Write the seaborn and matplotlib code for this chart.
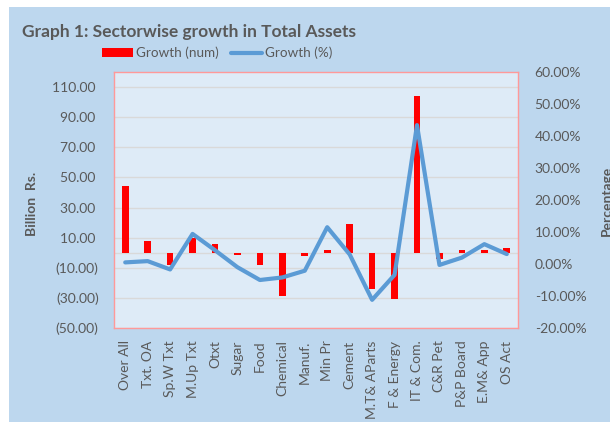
import matplotlib
matplotlib.use('Agg')
import matplotlib.pyplot as plt
import seaborn as sns
import pandas as pd
from matplotlib.patches import Rectangle, Patch
from matplotlib.lines import Line2D
from matplotlib.ticker import FixedLocator, FuncFormatter

categories = ["Over All", "Txt. OA", "Sp.W Txt", "M.Up Txt", "Otxt", "Sugar", "Food",
              "Chemical", "Manuf.", "Min Pr", "Cement", "M.T& AParts", "F & Energy",
              "IT & Com.", "C&R Pet", "P&P Board", "E.M& App", "OS Act"]
growth_num = [44, 8, -8, 10, 6, -1.5, -8, -29, -2.5, 2, 19, -24, -30.5, 104, -4.5, 2, 2, 3]
growth_pct = [0.5, 0.9, -1.7, 9.4, 4.3, -1.0, -5.0, -4.2, -2.1, 11.5, 3.0, -11.2, -3.4,
              43.4, -0.3, 2.0, 6.2, 3.1]
left_ticks = [-50, -30, -10, 10, 30, 50, 70, 90, 110]
right_ticks = [-20, -10, 0, 10, 20, 30, 40, 50, 60]

TXT = '#595959'
sns.set_theme(style='white')
plt.rcParams['font.family'] = ['Lato', 'DejaVu Sans']

W, H = 610, 422
fig = plt.figure(figsize=(W / 100, H / 100), dpi=100)
fig.patch.set_facecolor('#BDD7EE')
fig.patches.append(Rectangle((0, 0), 9 / W, 1, transform=fig.transFigure,
                             facecolor='white', edgecolor='none', zorder=-5))
fig.patches.append(Rectangle((0, 1 - 7 / H), 1, 7 / H, transform=fig.transFigure,
                             facecolor='white', edgecolor='none', zorder=-5))

ax = fig.add_axes([114 / W, 1 - 328 / H, 404 / W, 256 / H])
ax.set_facecolor('#DEEBF7')

df = pd.DataFrame({'Sector': categories, 'num': growth_num, 'pct': growth_pct})
sns.barplot(data=df, x='Sector', y='num', color='#FF0000', saturation=1, width=0.3,
            linewidth=0, ax=ax, zorder=3)
ax.set_ylim(-50, 120)
ax.yaxis.set_major_locator(FixedLocator(left_ticks))
ax.yaxis.set_major_formatter(FuncFormatter(
    lambda v, p: f"({abs(v):.2f})" if v < 0 else f"{v:.2f} "))
ax.grid(axis='y', color='#D9D9D9', linewidth=1)
ax.axhline(0, color='#D9D9D9', linewidth=1, zorder=1)
ax.set_axisbelow(True)
for s in ax.spines.values():
    s.set_color('#FF9999')
    s.set_linewidth(1)
    s.set_visible(True)

ax2 = ax.twinx()
sns.lineplot(data=df, x='Sector', y='pct', ax=ax2, color='#5B9BD5', linewidth=3,
             sort=False)
ax2.set_ylim(-20, 60)
ax2.yaxis.set_major_locator(FixedLocator(right_ticks))
ax2.yaxis.set_major_formatter(FuncFormatter(lambda v, p: f"{v:.2f}%"))
for s in ax2.spines.values():
    s.set_visible(False)
ax2.set_xlabel('')
ax2.set_ylabel('')

ax.set_xlim(-0.5, len(categories) - 0.5)
ax.set_xticks(range(len(categories)))
ax.set_xticklabels(categories, rotation=90)
ax.set_xlabel('')
ax.set_ylabel('')

ax.tick_params(axis='y', length=0, pad=11, labelsize=10, labelcolor=TXT)
ax.tick_params(axis='x', length=0, pad=9, labelsize=10, labelcolor=TXT)
ax2.tick_params(axis='y', length=0, pad=12, labelsize=10, labelcolor=TXT)

fig.text(22 / W, 1 - 32 / H, 'Graph 1: Sectorwise growth in Total Assets', fontsize=12.5,
         fontweight='bold', color=TXT, ha='left', va='center')
fig.text(31.7 / W, 1 - 204 / H, 'Billion  Rs.', rotation=90, ha='center', va='center',
         fontsize=10, fontweight='bold', color=TXT)
fig.text(601 / W, 1 - 201 / H, 'Percentage', rotation=90, ha='left', va='center',
         fontsize=10, fontweight='bold', color=TXT)

handles = [Patch(facecolor='#FF0000', edgecolor='none', label='Growth (num)'),
           Line2D([], [], color='#5B9BD5', lw=3, label='Growth (%)')]
fig.legend(handles=handles, ncol=2, frameon=False, loc='center',
           bbox_to_anchor=(217 / W, 1 - 53 / H), fontsize=9.7, handlelength=2.3,
           handleheight=0.7, handletextpad=0.25, columnspacing=0.9, labelcolor=TXT)

fig.savefig('out.png', dpi=100)
